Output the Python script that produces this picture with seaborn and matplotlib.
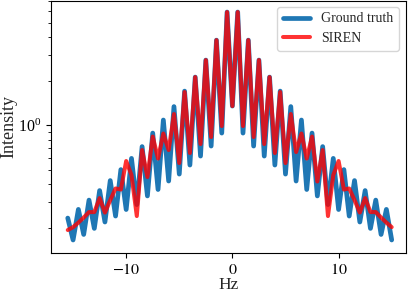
import numpy as np
import pandas as pd
import matplotlib
matplotlib.use("Agg")
import matplotlib.pyplot as plt
from matplotlib.ticker import FuncFormatter
import seaborn as sns

hz = [-15.5, -15, -14.5, -14, -13.5, -13, -12.5, -12, -11.5, -11, -10.5, -10,
      -9.5, -9, -8.5, -8, -7.5, -7, -6.5, -6, -5.5, -5, -4.5, -4, -3.5, -3,
      -2.5, -2, -1.5, -1, -0.5, 0, 0.5, 1, 1.5, 2, 2.5, 3, 3.5, 4, 4.5, 5,
      5.5, 6, 6.5, 7, 7.5, 8, 8.5, 9, 9.5, 10, 10.5, 11, 11.5, 12, 12.5, 13,
      13.5, 14, 14.5, 15]

ground_truth = [0.234, 0.166, 0.268, 0.181, 0.310, 0.199, 0.360, 0.220, 0.421, 0.2415,
                0.500, 0.2675, 0.596, 0.289, 0.717, 0.331, 0.886, 0.366, 1.087, 0.418,
                1.342, 0.466, 1.71, 0.537, 2.13, 0.618, 2.78, 0.723, 3.80, 0.886,
                5.90, 1.353, 5.90, 0.886, 3.80, 0.723, 2.78, 0.618, 2.13, 0.537,
                1.71, 0.466, 1.342, 0.418, 1.087, 0.366, 0.886, 0.331, 0.717, 0.289,
                0.596, 0.2675, 0.500, 0.2415, 0.421, 0.220, 0.360, 0.199, 0.310, 0.181,
                0.268, 0.166]

siren = [0.194, 0.203, 0.218, 0.236, 0.257, 0.257, 0.320, 0.255, 0.310, 0.372,
         0.366, 0.572, 0.459, 0.2415, 0.679, 0.445, 0.839, 0.594, 0.880, 0.679,
         1.194, 0.554, 1.685, 0.648, 2.13, 0.746, 2.78, 0.833, 3.80, 0.989,
         5.90, 1.353, 5.90, 0.989, 3.80, 0.833, 2.78, 0.746, 2.13, 0.648,
         1.685, 0.554, 1.194, 0.658, 0.880, 0.594, 0.839, 0.415, 0.679, 0.2415,
         0.459, 0.572, 0.366, 0.372, 0.310, 0.255, 0.320, 0.257, 0.257, 0.236,
         0.218, 0.203]

series_names = ["Ground truth", "SIREN"]
x_ticks = [-10, 0, 10]

sns.set_style("ticks")
plt.rcParams["font.family"] = ["Liberation Serif", "DejaVu Serif"]
plt.rcParams["mathtext.fontset"] = "stix"
plt.rcParams["axes.edgecolor"] = "black"
plt.rcParams["xtick.color"] = "black"
plt.rcParams["ytick.color"] = "black"
plt.rcParams["axes.linewidth"] = 0.8

fig = plt.figure(figsize=(4.08, 2.95), dpi=100)
ax = fig.add_axes([51.3 / 408, 1 - 252.7 / 295, (405.5 - 51.3) / 408, (252.7 - 0.6) / 295])

sns.lineplot(x=hz, y=ground_truth, color="#1f77b4", linewidth=3.4,
             label=series_names[0], ax=ax)
sns.lineplot(x=hz, y=siren, color="red", alpha=0.8, linewidth=2.9,
             label=series_names[1], ax=ax)

ax.set_yscale("log")
ax.set_xlim(-17.05, 16.3)
ax.set_ylim(0.136, 7.06)
ax.set_xticks(x_ticks)
ax.xaxis.set_major_formatter(FuncFormatter(lambda v, p: f"${v:.0f}$"))
ax.tick_params(labelsize=11.5)
ax.set_xlabel("Hz", fontsize=12.5, labelpad=-1)
ax.set_ylabel("Intensity", fontsize=13, labelpad=1)
leg = ax.legend(loc="upper right", fontsize=10, frameon=True, fancybox=True,
                handlelength=2.0, borderaxespad=0.45)
leg.get_frame().set_edgecolor("#cccccc")

fig.savefig("out.png", dpi=100)
